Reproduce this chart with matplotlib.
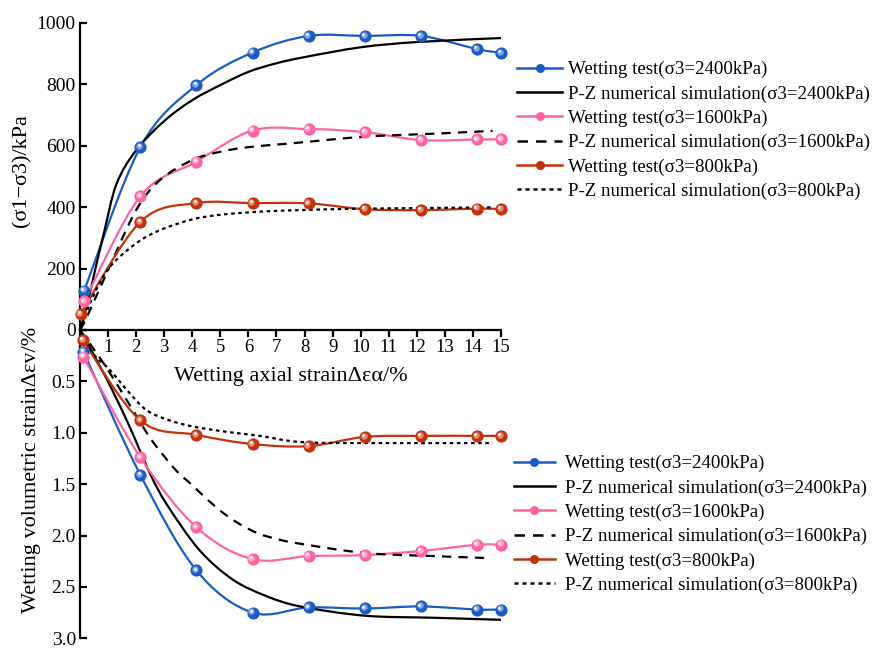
import numpy as np
import matplotlib
matplotlib.use('Agg')
import matplotlib.pyplot as plt
from matplotlib.path import Path
from matplotlib.patches import PathPatch
from matplotlib.lines import Line2D
from matplotlib.transforms import offset_copy
from matplotlib.colors import to_rgb

plt.rcParams['font.family'] = ['Liberation Serif', 'DejaVu Serif']

# ---- data ----
# test points (axial strain %)
xTest = [0.15, 2.15, 4.15, 6.15, 8.15, 10.15, 12.15, 14.15, 15.0]
xTest800 = [0.02, 2.15, 4.15, 6.15, 8.15, 10.15, 12.15, 14.15, 15.0]

# deviator stress (kPa)
q2400 = [128, 595, 797, 903, 957, 957, 957, 914, 902]
q1600 = [93, 435, 548, 649, 654, 644, 618, 620, 620]
q800 = [52, 352, 413, 413, 412, 393, 390, 395, 393]

# volumetric strain (%)
xVol = [0.12, 2.15, 4.15, 6.15, 8.15, 10.15, 12.15, 14.15, 15.0]
xVol800 = [0.1, 2.15, 4.15, 6.15, 8.15, 10.15, 12.15, 14.15, 15.0]
v2400 = [0.21, 1.41, 2.34, 2.75, 2.70, 2.71, 2.69, 2.72, 2.72]
v1600 = [0.26, 1.24, 1.92, 2.23, 2.20, 2.19, 2.15, 2.09, 2.09]
v800 = [0.10, 0.88, 1.02, 1.11, 1.13, 1.04, 1.03, 1.03, 1.03]

# P-Z simulation curves
simQ2400x = [0, 0.25, 0.5, 0.85, 1.3, 2.0, 3.0, 4.0, 5.0, 6.0, 7.0, 8.0, 10.0, 12.0, 15.0]
simQ2400y = [0, 80, 180, 315, 475, 585, 680, 748, 797, 840, 868, 888, 920, 937, 950]
simQ1600x = [0, 0.25, 1.0, 2.0, 2.85, 4.0, 5.0, 6.0, 7.6, 10.15, 12.9, 14.7]
simQ1600y = [0, 43, 195, 390, 488, 553, 580, 595, 608, 629, 640, 648]
simQ800x = [0, 0.47, 1.07, 2.0, 2.85, 4.0, 5.0, 6.4, 7.8, 10.2, 14.7]
simQ800y = [0, 110, 206, 282, 325, 360, 375, 385, 390, 395, 399]

simV2400x = [0, 0.9, 1.7, 2.5, 3.1, 4.25, 5.45, 6.65, 7.85, 10.15, 12.6, 15.0]
simV2400y = [0, 0.45, 0.90, 1.40, 1.70, 2.14, 2.43, 2.59, 2.69, 2.78, 2.80, 2.82]
simV1600x = [0, 0.83, 1.66, 2.15, 2.6, 3.4, 4.0, 4.5, 5.1, 5.7, 6.35, 7.1, 7.85, 10.15, 12.6, 14.6]
simV1600y = [0, 0.32, 0.68, 0.90, 1.09, 1.36, 1.51, 1.64, 1.78, 1.89, 1.98, 2.04, 2.08, 2.17, 2.20, 2.22]
simV800x = [0, 0.47, 1.07, 1.66, 2.37, 3.2, 4.04, 5.2, 6.4, 7.85, 10.15, 14.7]
simV800y = [0, 0.23, 0.39, 0.58, 0.78, 0.88, 0.94, 0.99, 1.03, 1.09, 1.10, 1.10]

labels = ['Wetting test(σ3=2400kPa)', 'P-Z numerical simulation(σ3=2400kPa)',
		  'Wetting test(σ3=1600kPa)', 'P-Z numerical simulation(σ3=1600kPa)',
		  'Wetting test(σ3=800kPa)', 'P-Z numerical simulation(σ3=800kPa)']

cBlue = '#1a5cc4'
cPink = '#ff64a2'
cRed = '#c4320c'
dashLong = (0, (4.2, 3.2))
dashShort = (0, (1.6, 1.6))


def smoothPath(x, y):
	# catmull-rom through the read points, drawn as bezier
	p = np.column_stack([x, y]).astype(float)
	verts = [p[0]]
	codes = [Path.MOVETO]
	for i in range(len(p) - 1):
		p0 = p[i - 1] if i > 0 else p[i]
		p3 = p[i + 2] if i + 2 < len(p) else p[i + 1]
		verts += [p[i] + (p[i + 1] - p0) / 6, p[i + 1] - (p3 - p[i]) / 6, p[i + 1]]
		codes += [Path.CURVE4] * 3
	return Path(verts, codes)


def drawCurve(ax, x, y, color, ls='-', lw=1.6):
	ax.add_patch(PathPatch(smoothPath(x, y), fill=False, edgecolor=color,
						   linestyle=ls, linewidth=lw, clip_on=False, capstyle='butt'))


def lighter(c, f):
	r = np.array(to_rgb(c))
	return tuple(r + (1 - r) * f)


def drawBalls(ax, x, y, color):
	ax.plot(x, y, linestyle='none', marker='o', markersize=8.8, color=color,
			markeredgewidth=0, clip_on=False, zorder=5)
	hl = offset_copy(ax.transData, fig=ax.figure, x=-1.3, y=1.3, units='dots')
	ax.plot(x, y, linestyle='none', marker='o', markersize=4.6, color=lighter(color, 0.45),
			markeredgewidth=0, clip_on=False, zorder=6, transform=hl)
	hl2 = offset_copy(ax.transData, fig=ax.figure, x=-1.8, y=1.8, units='dots')
	ax.plot(x, y, linestyle='none', marker='o', markersize=2.0, color='white',
			markeredgewidth=0, clip_on=False, zorder=7, transform=hl2)


W, H = 875, 648
fig = plt.figure(figsize=(W / 100, H / 100), dpi=100)
ax2 = fig.add_axes([80 / W, 1 - 638.3 / H, 421 / W, (638.3 - 330) / H])
ax1 = fig.add_axes([80 / W, 1 - 330 / H, 421 / W, (330 - 22.7) / H])
ax1.patch.set_visible(False)
ax2.patch.set_visible(False)
ax1.set_zorder(3)

# top panel: deviator stress
drawCurve(ax1, xTest, q2400, cBlue)
drawCurve(ax1, simQ2400x, simQ2400y, 'black')
drawCurve(ax1, xTest, q1600, cPink)
drawCurve(ax1, simQ1600x, simQ1600y, 'black', dashLong)
drawCurve(ax1, xTest800, q800, cRed)
drawCurve(ax1, simQ800x, simQ800y, 'black', dashShort)
drawBalls(ax1, xTest, q2400, cBlue)
drawBalls(ax1, xTest, q1600, cPink)
drawBalls(ax1, xTest800, q800, cRed)

# bottom panel: volumetric strain
drawCurve(ax2, xVol, v2400, cBlue)
drawCurve(ax2, simV2400x, simV2400y, 'black')
drawCurve(ax2, xVol, v1600, cPink)
drawCurve(ax2, simV1600x, simV1600y, 'black', dashLong)
drawCurve(ax2, xVol800, v800, cRed)
drawCurve(ax2, simV800x, simV800y, 'black', dashShort)
drawBalls(ax2, xVol, v2400, cBlue)
drawBalls(ax2, xVol, v1600, cPink)
drawBalls(ax2, xVol800, v800, cRed)

ax1.set_xlim(0, 15)
ax1.set_ylim(0, 1000)
ax2.set_xlim(0, 15)
ax2.set_ylim(3.0, 0)

for a in (ax1, ax2):
	a.spines['top'].set_visible(False)
	a.spines['right'].set_visible(False)
	a.spines['left'].set_linewidth(1.6)
	a.tick_params(axis='y', direction='in', length=5, width=1.6, labelsize=14, pad=3)
ax1.spines['bottom'].set_linewidth(1.6)
ax2.spines['bottom'].set_visible(False)

ax1.set_xticks(range(1, 16))
ax1.tick_params(axis='x', direction='out', length=5, width=1.6, labelsize=13.5, pad=1.5)
ax1.set_yticks([0, 200, 400, 600, 800, 1000])
ax2.set_xticks([])
ax2.set_yticks([0, 0.5, 1.0, 1.5, 2.0, 2.5, 3.0])
ax2.set_yticklabels(['', '0.5', '1.0', '1.5', '2.0', '2.5', '3.0'])

fig.text(291 / W, 1 - 381 / H, 'Wetting axial strainΔεα/%', ha='center', va='baseline', fontsize=16)
fig.text(22 / W, 1 - 171 / H, '(σ1−σ3)/kPa', ha='center', va='center', rotation=90, fontsize=16)
fig.text(32 / W, 1 - 470 / H, 'Wetting volumetric strainΔεv/%', ha='center', va='center',
		 rotation=90, fontsize=16)


def legendHandles():
	hs = []
	for c, ls in [(cBlue, None), ('black', '-'), (cPink, None), ('black', dashLong),
				  (cRed, None), ('black', dashShort)]:
		if ls is None:
			hs.append(Line2D([], [], color=c, lw=1.8, marker='o', markersize=6.5, markeredgewidth=0))
		else:
			hs.append(Line2D([], [], color='black', lw=1.8, linestyle=ls))
	return hs


leg1 = fig.legend(legendHandles(), labels, loc='upper left', bbox_to_anchor=(517 / W, 1 - 61 / H),
				  frameon=False, fontsize=13.6, handlelength=2.4, handletextpad=0.3,
				  labelspacing=0.37, borderpad=0, borderaxespad=0)
leg2 = fig.legend(legendHandles(), labels, loc='upper left', bbox_to_anchor=(514 / W, 1 - 455 / H),
				  frameon=False, fontsize=13.6, handlelength=2.15, handletextpad=0.55,
				  labelspacing=0.37, borderpad=0, borderaxespad=0)

fig.savefig('out.png', dpi=100)
